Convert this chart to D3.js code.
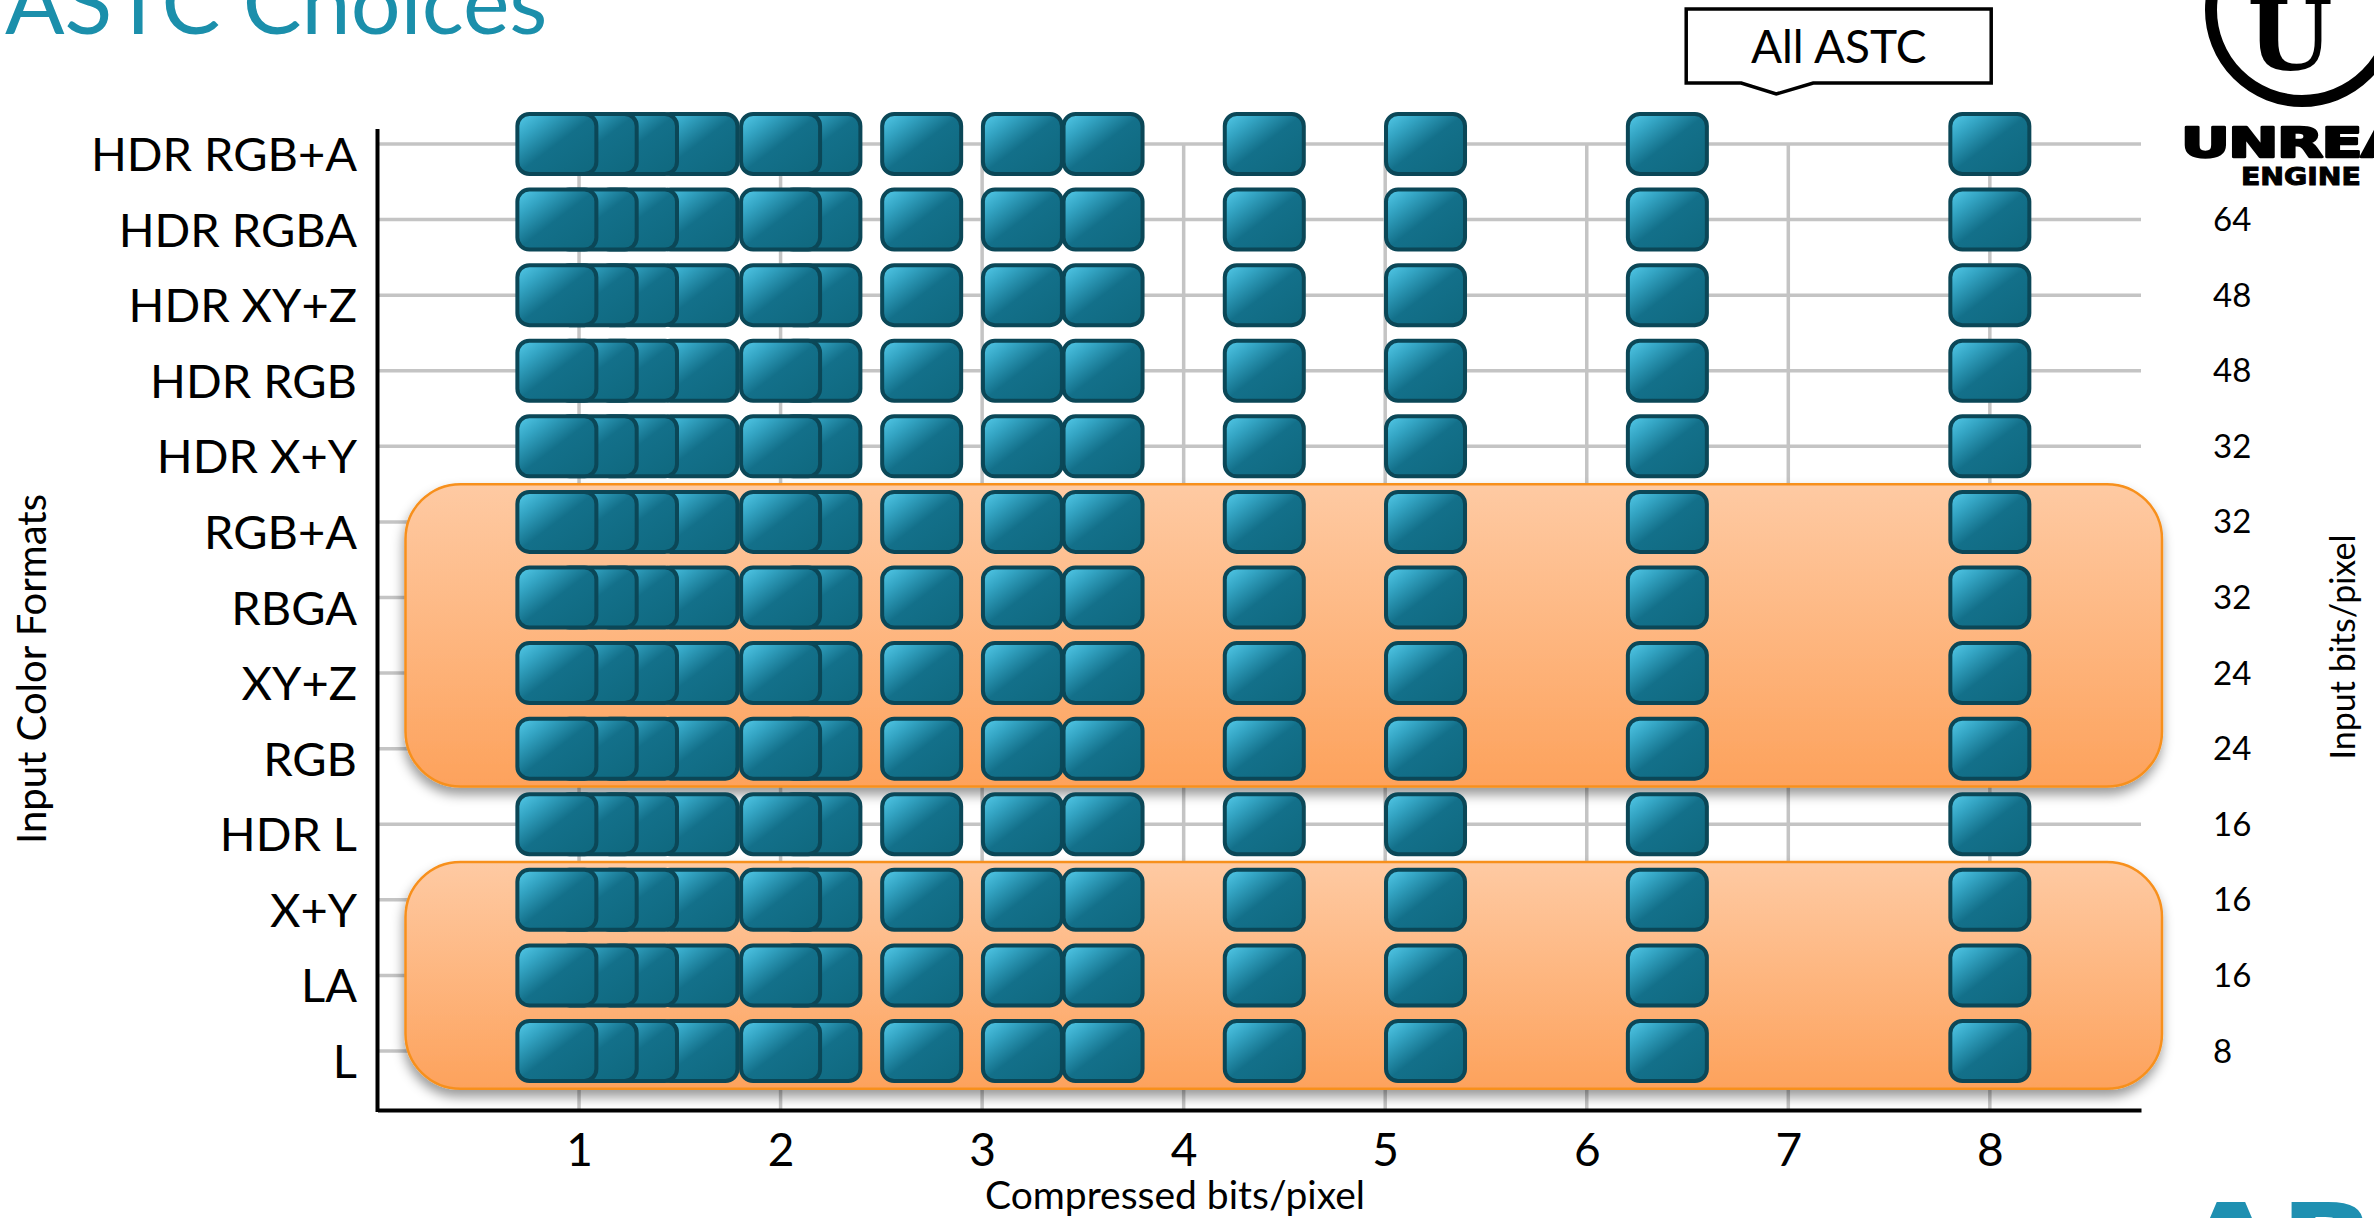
<!DOCTYPE html>
<html>
<head>
<meta charset="utf-8">
<script src="https://cdn.jsdelivr.net/npm/d3@7"></script>
<style>
  html, body { margin: 0; padding: 0; background: #ffffff; overflow: hidden; }
  svg { display: block; font-family: Lato, "Open Sans", sans-serif; }
</style>
</head>
<body>
<svg id="chart" width="2374" height="1218"></svg>
<script>
// Input colour formats, top to bottom
const categories = [
  "HDR RGB+A", "HDR RGBA", "HDR XY+Z", "HDR RGB", "HDR X+Y",
  "RGB+A", "RBGA", "XY+Z", "RGB", "HDR L", "X+Y", "LA", "L"
];
// Uncompressed size of each format (bits per pixel); the first is hidden behind the logo
const inputBits = [null, 64, 48, 48, 32, 32, 32, 24, 24, 16, 16, 16, 8];
// ASTC block footprints, as compressed bits per pixel
const compressedBpp = [0.89, 1.09, 1.29, 1.59, 2.0, 2.2, 2.7, 3.2, 3.6, 4.4, 5.2, 6.4, 8.0];
// Bottom axis ticks
const xTicks = [1, 2, 3, 4, 5, 6, 7, 8];
// Formats shaded as one group (first and last member of each run)
const highlightGroups = [["RGB+A", "RGB"], ["X+Y", "L"]];
// Callout above the grid
const calloutText = "All ASTC";
const calloutAt = 6.94;

const svg = d3.select("#chart");

const x = d3.scaleLinear().domain([0, 8.75]).range([377.5, 2141]);
const y = d3.scalePoint().domain(categories).range([144, 1051]);
const step = y.step();
const axisY = 1110;

// ---- definitions: gradients and shadow ----
const defs = svg.append("defs");
const tileGrad = defs.append("linearGradient")
  .attr("id", "tileFill").attr("x1", 0).attr("y1", 0).attr("x2", 1).attr("y2", 1);
[[0, "#55cbea"], [0.22, "#34a5c4"], [0.5, "#13708a"], [1, "#0f687e"]].forEach(([o, c]) =>
  tileGrad.append("stop").attr("offset", o).attr("stop-color", c));

const boxGrad = defs.append("linearGradient")
  .attr("id", "groupFill").attr("x1", 0).attr("y1", 0).attr("x2", 0).attr("y2", 1);
[[0, "#fecaa3"], [1, "#fda25c"]].forEach(([o, c]) =>
  boxGrad.append("stop").attr("offset", o).attr("stop-color", c));

const shadow = defs.append("filter").attr("id", "groupShadow")
  .attr("x", "-5%").attr("y", "-10%").attr("width", "110%").attr("height", "130%");
shadow.append("feDropShadow").attr("dx", -1).attr("dy", 7).attr("stdDeviation", 6)
  .attr("flood-color", "#000").attr("flood-opacity", 0.4);

// ---- grid ----
const grid = svg.append("g").attr("stroke", "#c4c4c4").attr("stroke-width", 3.5);
grid.selectAll("line.h").data(categories).join("line").attr("class", "h")
  .attr("x1", x.range()[0]).attr("x2", x.range()[1])
  .attr("y1", d => y(d)).attr("y2", d => y(d));
grid.selectAll("line.v").data(xTicks).join("line").attr("class", "v")
  .attr("x1", d => x(d)).attr("x2", d => x(d))
  .attr("y1", y(categories[0])).attr("y2", axisY);

// ---- shaded groups ----
svg.append("g").selectAll("rect").data(highlightGroups).join("rect")
  .attr("x", x.range()[0] + 28)
  .attr("width", x.range()[1] + 21 - (x.range()[0] + 28))
  .attr("y", d => y(d[0]) - step / 2)
  .attr("height", d => y(d[1]) - y(d[0]) + step)
  .attr("rx", 55).attr("ry", 55)
  .attr("fill", "url(#groupFill)")
  .attr("stroke", "#f7901e").attr("stroke-width", 2.5)
  .attr("filter", "url(#groupShadow)");

// ---- tiles: one per block footprint and format, smaller rates on top ----
const tileW = 79, tileH = 60;
const ordered = compressedBpp.slice().sort((a, b) => b - a);
const rows = svg.append("g").selectAll("g").data(categories).join("g")
  .attr("transform", d => `translate(0,${y(d)})`);
rows.selectAll("rect").data(ordered).join("rect")
  .attr("x", d => x(d) - tileW / 2)
  .attr("y", -tileH / 2)
  .attr("width", tileW).attr("height", tileH)
  .attr("rx", 12).attr("ry", 12)
  .attr("fill", "url(#tileFill)")
  .attr("stroke", "#0b4757").attr("stroke-width", 4);

// ---- axes ----
const xAxis = svg.append("g").attr("transform", `translate(0,${axisY})`)
  .call(d3.axisBottom(x).tickValues(xTicks).tickFormat(d3.format("d")).tickSize(0).tickSizeOuter(0));
xAxis.select(".domain").attr("stroke", "#000").attr("stroke-width", 4);
xAxis.selectAll("text").attr("y", 56).attr("dy", null)
  .attr("font-family", "Lato, sans-serif").attr("font-size", 46).attr("fill", "#000");

svg.append("line").attr("x1", x.range()[0]).attr("x2", x.range()[0])
  .attr("y1", 129).attr("y2", axisY + 2).attr("stroke", "#000").attr("stroke-width", 4);

const yAxis = svg.append("g").attr("transform", "translate(357,0)")
  .call(d3.axisLeft(y).tickSize(0));
yAxis.select(".domain").remove();
yAxis.selectAll("text").attr("x", 0).attr("dy", null).attr("y", 26.5)
  .attr("font-family", "Lato, sans-serif").attr("font-size", 47).attr("fill", "#000");

const rightAxis = svg.append("g").attr("transform", "translate(2213,0)")
  .call(d3.axisRight(y).tickSize(0).tickFormat((d, i) => inputBits[i] == null ? "" : inputBits[i]));
rightAxis.select(".domain").remove();
rightAxis.selectAll("text").attr("x", 0).attr("dy", null).attr("y", 11)
  .attr("font-family", "Lato, sans-serif").attr("font-size", 33).attr("fill", "#000");

// ---- axis titles ----
svg.append("text").attr("x", 1175).attr("y", 1209).attr("text-anchor", "middle")
  .attr("font-size", 39).attr("fill", "#000").text("Compressed bits/pixel");
svg.append("text").attr("transform", "translate(46,669) rotate(-90)").attr("text-anchor", "middle")
  .attr("font-size", 40).attr("fill", "#000").text("Input Color Formats");
svg.append("text").attr("transform", "translate(2355,647) rotate(-90)").attr("text-anchor", "middle")
  .attr("font-size", 34).attr("fill", "#000").text("Input bits/pixel");

// ---- title ----
svg.append("text").attr("x", 5).attr("y", 34)
  .attr("font-size", 88).attr("fill", "#1b8fab").text("ASTC Choices");

// ---- callout ----
const tip = x(calloutAt);
const cl = tip - 90, cr = tip + 215, ct = 9, cb = 83;
svg.append("path")
  .attr("d", `M${cl},${ct}H${cr}V${cb}H${tip + 37}L${tip},${cb + 11}L${tip - 35},${cb}H${cl}Z`)
  .attr("fill", "#fff").attr("stroke", "#000").attr("stroke-width", 3.5).attr("stroke-linejoin", "miter");
svg.append("text").attr("x", (cl + cr) / 2).attr("y", 63).attr("text-anchor", "middle")
  .attr("font-size", 46).attr("fill", "#000").text(calloutText);

// ---- engine logo, top right ----
const logo = svg.append("g");
logo.append("circle").attr("cx", 2302).attr("cy", 10).attr("r", 91)
  .attr("fill", "none").attr("stroke", "#000").attr("stroke-width", 12);
logo.append("text").attr("x", 2290).attr("y", 70).attr("text-anchor", "middle")
  .attr("font-family", "DejaVu Serif, serif").attr("font-weight", "bold")
  .attr("font-size", 98).attr("fill", "#000").text("U");
logo.append("g").attr("transform", "translate(2181,157) scale(1.5,1)")
  .append("text").attr("x", 0).attr("y", 0)
  .attr("font-family", "DejaVu Sans, sans-serif").attr("font-weight", "bold")
  .attr("font-size", 40).attr("letter-spacing", -1)
  .attr("fill", "#000").attr("stroke", "#000").attr("stroke-width", 2.4)
  .attr("stroke-linejoin", "round").text("UNREAL");
logo.append("g").attr("transform", "translate(2241,185) scale(1.18,1)")
  .append("text").attr("x", 0).attr("y", 0)
  .attr("font-family", "DejaVu Sans, sans-serif").attr("font-weight", "bold")
  .attr("font-size", 24).attr("fill", "#000").attr("stroke", "#000").attr("stroke-width", 1)
  .text("ENGINE");

// ---- company mark, bottom right ----
svg.append("g").attr("transform", "translate(2182,1283) scale(1.15,1)")
  .append("text").attr("x", 0).attr("y", 0)
  .attr("font-family", "DejaVu Sans, sans-serif").attr("font-weight", "bold")
  .attr("font-size", 110).attr("fill", "#1f90b1").text("ARM");
</script>
</body>
</html>
